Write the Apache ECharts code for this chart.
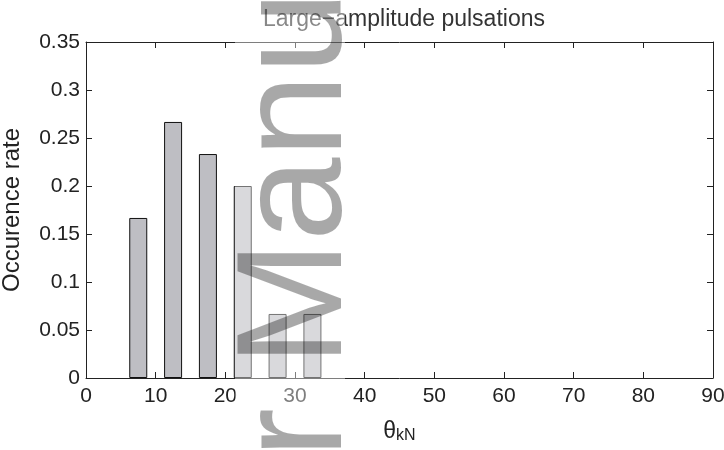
<!DOCTYPE html>
<html>
<head>
<meta charset="utf-8">
<script src="https://cdn.jsdelivr.net/npm/echarts@6/dist/echarts.min.js"></script>
<style>
  html, body { margin: 0; padding: 0; background: #fff; }
  #chart { width: 724px; height: 450px; }
</style>
</head>
<body>
<div id="chart"></div>
<script>
// bin centres (deg) and occurrence rate
var binCenters = [7.5, 12.5, 17.5, 22.5, 27.5, 32.5];
var rates = [0.1667, 0.2667, 0.2333, 0.2, 0.0667, 0.0667];
var xTicks = [0, 10, 20, 30, 40, 50, 60, 70, 80, 90];
var yTicks = [0, 0.05, 0.1, 0.15, 0.2, 0.25, 0.3, 0.35];

var font = "'Liberation Sans', Arial, sans-serif";
var myChart = echarts.init(document.getElementById("chart"));

var barData = binCenters.map(function (c, i) {
  return [c, rates[i]];
});

var boxAxisX = {
  type: "value",
  min: xTicks[0],
  max: xTicks[xTicks.length - 1],
  interval: 10,
  splitLine: { show: false },
  axisLine: { show: true, onZero: false, lineStyle: { color: "#222", width: 1 } },
  axisTick: { show: true, inside: true, length: 6, lineStyle: { color: "#222" } },
};
var boxAxisY = {
  type: "value",
  min: yTicks[0],
  max: yTicks[yTicks.length - 1],
  interval: 0.05,
  splitLine: { show: false },
  axisLine: { show: true, onZero: false, lineStyle: { color: "#222", width: 1 } },
  axisTick: { show: true, inside: true, length: 6, lineStyle: { color: "#222" } },
};

myChart.setOption({
  animation: false,
  title: {
    text: "Large\u2212amplitude pulsations",
    left: 399,
    textAlign: "center",
    top: 3,
    textStyle: { fontFamily: font, fontSize: 23, fontWeight: "normal", color: "#333" },
  },
  grid: { left: 86, right: 11, top: 42, bottom: 72, outerBoundsMode: "none" },
  xAxis: [
    Object.assign({}, boxAxisX, {
      position: "bottom",
      name: "{a|\u03b8}{s|kN}",
      nameLocation: "middle",
      nameGap: 37,
      nameTextStyle: {
        rich: {
          a: { fontFamily: font, fontSize: 23, color: "#222", verticalAlign: "top", lineHeight: 24 },
          s: { fontFamily: font, fontSize: 16, color: "#222", verticalAlign: "bottom", lineHeight: 16, padding: [16, 0, 0, 0] },
        },
      },
      axisLabel: { fontFamily: font, fontSize: 21, color: "#222", margin: 8 },
    }),
    Object.assign({}, boxAxisX, { position: "top", axisLabel: { show: false } }),
  ],
  yAxis: [
    Object.assign({}, boxAxisY, {
      position: "left",
      name: "Occurence rate",
      nameLocation: "middle",
      nameGap: 62,
      nameTextStyle: { fontFamily: font, fontSize: 24, color: "#222" },
      axisLabel: { fontFamily: font, fontSize: 21, color: "#222", margin: 6 },
    }),
    Object.assign({}, boxAxisY, { position: "right", axisLabel: { show: false } }),
  ],
  series: [
    {
      type: "bar",
      data: barData,
      barWidth: 18,
      itemStyle: { color: "#bebec3", borderColor: "#111", borderWidth: 1 },
    },
  ],
  graphic: [
    // manuscript watermark band
    {
      type: "rect",
      z: 100,
      shape: { x: 235, y: 0, width: 110, height: 450 },
      style: { fill: "rgba(255,255,255,0.42)" },
      silent: true,
    },
    {
      type: "text",
      z: 101,
      x: 375,
      y: 366,
      rotation: Math.PI / 2,
      silent: true,
      style: {
        text: "Manuscript",
        font: "150px " + font,
        fill: "rgba(0,0,0,0.34)",
        textAlign: "left",
        textVerticalAlign: "bottom",
      },
    },
    {
      type: "text",
      z: 101,
      x: 375,
      y: 408,
      rotation: Math.PI / 2,
      silent: true,
      style: {
        text: "Author",
        font: "150px " + font,
        fill: "rgba(0,0,0,0.34)",
        textAlign: "right",
        textVerticalAlign: "bottom",
      },
    },
  ],
});
</script>
</body>
</html>
